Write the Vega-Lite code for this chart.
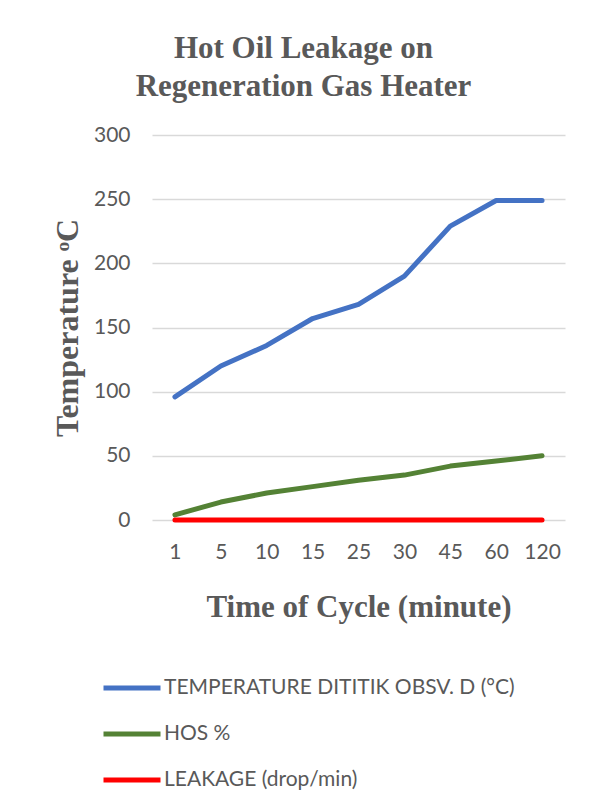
{
  "$schema": "https://vega.github.io/schema/vega-lite/v6.json",
  "autosize": "none",
  "width": 413,
  "height": 385,
  "padding": {"left": 152, "top": 135, "right": 25, "bottom": 287},
  "background": "white",
  "title": {
    "text": ["Hot Oil Leakage on", "Regeneration Gas Heater"],
    "anchor": "middle",
    "dx": -55,
    "offset": 21,
    "font": "Liberation Serif",
    "fontSize": 31,
    "fontWeight": "bold",
    "color": "#595959",
    "lineHeight": 38
  },
  "data": {
    "values": [
      {"time": "1", "series": "TEMPERATURE DITITIK OBSV. D (°C)", "value": 96},
      {"time": "5", "series": "TEMPERATURE DITITIK OBSV. D (°C)", "value": 120},
      {"time": "10", "series": "TEMPERATURE DITITIK OBSV. D (°C)", "value": 136},
      {"time": "15", "series": "TEMPERATURE DITITIK OBSV. D (°C)", "value": 157},
      {"time": "25", "series": "TEMPERATURE DITITIK OBSV. D (°C)", "value": 168},
      {"time": "30", "series": "TEMPERATURE DITITIK OBSV. D (°C)", "value": 190},
      {"time": "45", "series": "TEMPERATURE DITITIK OBSV. D (°C)", "value": 229},
      {"time": "60", "series": "TEMPERATURE DITITIK OBSV. D (°C)", "value": 249},
      {"time": "120", "series": "TEMPERATURE DITITIK OBSV. D (°C)", "value": 249},
      {"time": "1", "series": "HOS %", "value": 4},
      {"time": "5", "series": "HOS %", "value": 14},
      {"time": "10", "series": "HOS %", "value": 21},
      {"time": "15", "series": "HOS %", "value": 26},
      {"time": "25", "series": "HOS %", "value": 31},
      {"time": "30", "series": "HOS %", "value": 35},
      {"time": "45", "series": "HOS %", "value": 42},
      {"time": "60", "series": "HOS %", "value": 46},
      {"time": "120", "series": "HOS %", "value": 50},
      {"time": "1", "series": "LEAKAGE (drop/min)", "value": 0},
      {"time": "5", "series": "LEAKAGE (drop/min)", "value": 0},
      {"time": "10", "series": "LEAKAGE (drop/min)", "value": 0},
      {"time": "15", "series": "LEAKAGE (drop/min)", "value": 0},
      {"time": "25", "series": "LEAKAGE (drop/min)", "value": 0},
      {"time": "30", "series": "LEAKAGE (drop/min)", "value": 0},
      {"time": "45", "series": "LEAKAGE (drop/min)", "value": 0},
      {"time": "60", "series": "LEAKAGE (drop/min)", "value": 0},
      {"time": "120", "series": "LEAKAGE (drop/min)", "value": 0}
    ]
  },
  "mark": {"type": "line", "strokeWidth": 5, "strokeCap": "round", "strokeJoin": "round"},
  "encoding": {
    "x": {
      "field": "time",
      "type": "ordinal",
      "sort": ["1", "5", "10", "15", "25", "30", "45", "60", "120"],
      "scale": {"type": "point", "padding": 0.5},
      "axis": {
        "title": "Time of Cycle (minute)",
        "titleFont": "Liberation Serif",
        "titleFontSize": 31,
        "titleFontWeight": "bold",
        "titleColor": "#595959",
        "titlePadding": 30,
        "labelAngle": 0,
        "labelFont": "Lato",
        "labelFontSize": 21,
        "labelColor": "#595959",
        "labelPadding": 21,
        "ticks": false,
        "domain": false,
        "grid": false
      }
    },
    "y": {
      "field": "value",
      "type": "quantitative",
      "scale": {"domain": [0, 300], "nice": false},
      "axis": {
        "values": [0, 50, 100, 150, 200, 250, 300],
        "title": "Temperature ᵒC",
        "titleFont": "Liberation Serif",
        "titleFontSize": 32,
        "titleFontWeight": "bold",
        "titleColor": "#595959",
        "titlePadding": 9,
        "labelFont": "Lato",
        "labelFontSize": 21,
        "labelColor": "#595959",
        "labelPadding": 22,
        "ticks": false,
        "domain": false,
        "grid": true,
        "gridColor": "#d9d9d9",
        "gridWidth": 1.5
      }
    },
    "color": {
      "field": "series",
      "type": "nominal",
      "sort": ["TEMPERATURE DITITIK OBSV. D (°C)", "HOS %", "LEAKAGE (drop/min)"],
      "scale": {
        "domain": ["TEMPERATURE DITITIK OBSV. D (°C)", "HOS %", "LEAKAGE (drop/min)"],
        "range": ["#4472C4", "#548235", "#FF0000"]
      },
      "legend": {
        "title": null,
        "orient": "none",
        "legendX": -51,
        "legendY": 543,
        "direction": "vertical",
        "padding": 0,
        "symbolType": "stroke",
        "symbolSize": 3249,
        "symbolStrokeWidth": 5,
        "clipHeight": 20,
        "rowPadding": 25,
        "labelFont": "Lato",
        "labelFontSize": 21,
        "labelColor": "#595959",
        "labelOffset": 1,
        "labelLimit": 500
      }
    }
  },
  "config": {"view": {"stroke": null}}
}
